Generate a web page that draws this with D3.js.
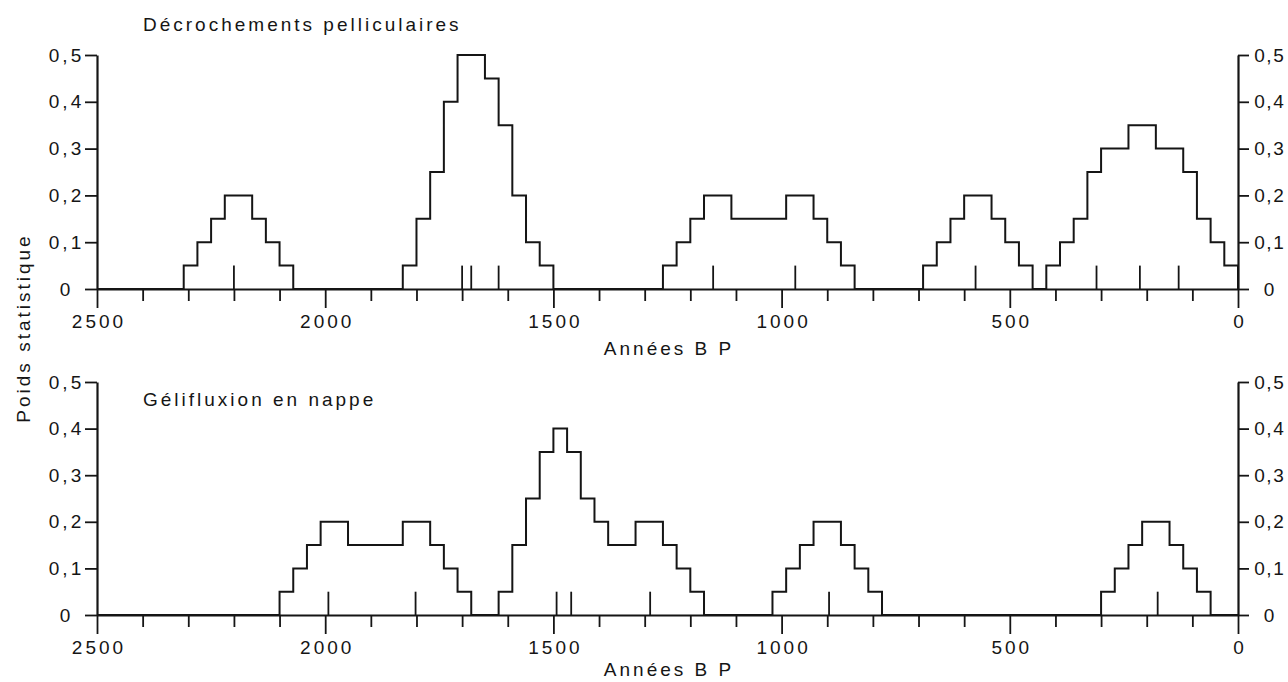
<!DOCTYPE html>
<html>
<head>
<meta charset="utf-8">
<script src="https://cdn.jsdelivr.net/npm/d3@7"></script>
<style>
  html, body { margin: 0; padding: 0; background: #fff; }
  svg { display: block; }
  text { font-family: "Liberation Sans", Arial, Helvetica, sans-serif; fill: #151515; }
</style>
</head>
<body>
<svg id="chart" width="1288" height="682"></svg>
<script>
// ---- Data ----
// Step histogram: each year marks the start of a level that runs toward younger ages.
const topYears  = [2500, 2310, 2280, 2250, 2220, 2160, 2130, 2100, 2070,
                   1830, 1800, 1770, 1740, 1710, 1650, 1620, 1590, 1560, 1530, 1500,
                   1260, 1230, 1200, 1170, 1110, 990, 930, 900, 870, 840,
                   690, 660, 630, 600, 540, 510, 480, 450,
                   420, 390, 360, 330, 300, 240, 180, 120, 90, 60, 30, 0];
const topValues = [0, 0.05, 0.1, 0.15, 0.2, 0.15, 0.1, 0.05, 0,
                   0.05, 0.15, 0.25, 0.4, 0.5, 0.45, 0.35, 0.2, 0.1, 0.05, 0,
                   0.05, 0.1, 0.15, 0.2, 0.15, 0.2, 0.15, 0.1, 0.05, 0,
                   0.05, 0.1, 0.15, 0.2, 0.15, 0.1, 0.05, 0,
                   0.05, 0.1, 0.15, 0.25, 0.3, 0.35, 0.3, 0.25, 0.15, 0.1, 0.05, 0];
const topDates  = [2200, 1700, 1680, 1620, 1150, 970, 575, 310, 215, 130];

const botYears  = [2500, 2100, 2070, 2040, 2010, 1950, 1830, 1770, 1740, 1710, 1680,
                   1620, 1590, 1560, 1530, 1500, 1470, 1440, 1410, 1380, 1320, 1260, 1230, 1200, 1170,
                   1020, 990, 960, 930, 870, 840, 810, 780,
                   300, 270, 240, 210, 150, 120, 90, 60, 0];
const botValues = [0, 0.05, 0.1, 0.15, 0.2, 0.15, 0.2, 0.15, 0.1, 0.05, 0,
                   0.05, 0.15, 0.25, 0.35, 0.4, 0.35, 0.25, 0.2, 0.15, 0.2, 0.15, 0.1, 0.05, 0,
                   0.05, 0.1, 0.15, 0.2, 0.15, 0.1, 0.05, 0,
                   0.05, 0.1, 0.15, 0.2, 0.15, 0.1, 0.05, 0, 0];
const botDates  = [1993, 1802, 1493, 1461, 1288, 896, 176];

const xTicks = d3.range(0, 2501, 100);
const xLabels = [2500, 2000, 1500, 1000, 500, 0];
const yTicks = [0, 0.1, 0.2, 0.3, 0.4, 0.5];
const titles = ["Décrochements pelliculaires", "Gélifluxion en nappe"];
const xTitle = "Années B P";
const yTitle = "Poids statistique";

// ---- Layout ----
const svg = d3.select("#chart");
const x = d3.scaleLinear().domain([2500, 0]).range([97, 1238]);
const panels = [
  { years: topYears, values: topValues, dates: topDates, title: titles[0],
    y: d3.scaleLinear().domain([0, 0.5]).range([289, 55]), titleY: 31, xTitleOff: 66 },
  { years: botYears, values: botValues, dates: botDates, title: titles[1],
    y: d3.scaleLinear().domain([0, 0.5]).range([615, 382]), titleY: 406, xTitleOff: 61 }
];

const ink = "#151515";
const fmtY = d => d === 0 ? "0" : d3.format(".1f")(d).replace(".", ",");
const FS = "19px", LS = "3px";

panels.forEach(p => {
  const g = svg.append("g");
  const y0 = p.y(0);

  // x axis
  const xa = g.append("g").attr("transform", `translate(0,${y0})`)
    .call(d3.axisBottom(x).tickValues(xTicks).tickSize(12).tickSizeOuter(0)
      .tickFormat(d => xLabels.includes(d) ? String(d) : ""));
  xa.select(".domain").attr("stroke", ink).attr("stroke-width", 2.2);
  xa.selectAll(".tick line").attr("stroke", ink).attr("stroke-width", 1.8)
    .attr("y2", d => d % 500 === 0 ? 19 : 12);
  xa.selectAll(".tick text").attr("y", 39).attr("dy", null).attr("dx", 1.5)
    .style("font-size", FS).style("letter-spacing", LS).attr("fill", ink);

  // left y axis
  const yl = g.append("g").attr("transform", `translate(${x(2500)},0)`)
    .call(d3.axisLeft(p.y).tickValues(yTicks).tickSize(12).tickSizeOuter(0).tickFormat(fmtY));
  yl.select(".domain").attr("stroke", ink).attr("stroke-width", 2.2);
  yl.selectAll(".tick line").attr("stroke", ink).attr("stroke-width", 1.8);
  yl.selectAll(".tick text").attr("x", -32).attr("dx", 1.5).attr("text-anchor", "middle")
    .style("font-size", FS).style("letter-spacing", LS).attr("fill", ink);

  // right y axis
  const yr = g.append("g").attr("transform", `translate(${x(0)},0)`)
    .call(d3.axisRight(p.y).tickValues(yTicks).tickSize(11).tickSizeOuter(0).tickFormat(fmtY));
  yr.select(".domain").attr("stroke", ink).attr("stroke-width", 2.2);
  yr.selectAll(".tick line").attr("stroke", ink).attr("stroke-width", 1.8);
  yr.selectAll(".tick text").attr("x", 31).attr("dx", 0.75).attr("text-anchor", "middle")
    .style("font-size", FS).style("letter-spacing", "1.5px").attr("fill", ink);

  // step histogram
  const line = d3.line().x(d => x(d[0])).y(d => p.y(d[1])).curve(d3.curveStepAfter);
  g.append("path").datum(d3.zip(p.years, p.values))
    .attr("d", line).attr("fill", "none").attr("stroke", ink)
    .attr("stroke-width", 2).attr("stroke-linejoin", "miter");

  // dated samples
  g.selectAll(".date").data(p.dates).join("line")
    .attr("x1", d => x(d)).attr("x2", d => x(d))
    .attr("y1", p.y(0)).attr("y2", p.y(0.05))
    .attr("stroke", ink).attr("stroke-width", 1.8);

  // panel title
  g.append("text").attr("x", 143).attr("y", p.titleY).text(p.title)
    .style("font-size", FS).style("letter-spacing", LS);

  // x axis title
  g.append("text").attr("x", (x(2500) + x(0)) / 2 + 1.5).attr("y", y0 + p.xTitleOff)
    .attr("text-anchor", "middle").text(xTitle)
    .style("font-size", FS).style("letter-spacing", LS);
});

// y axis title
svg.append("text")
  .attr("transform", "translate(30,328) rotate(-90)")
  .attr("text-anchor", "middle").text(yTitle)
  .style("font-size", FS).style("letter-spacing", LS);
</script>
</body>
</html>
